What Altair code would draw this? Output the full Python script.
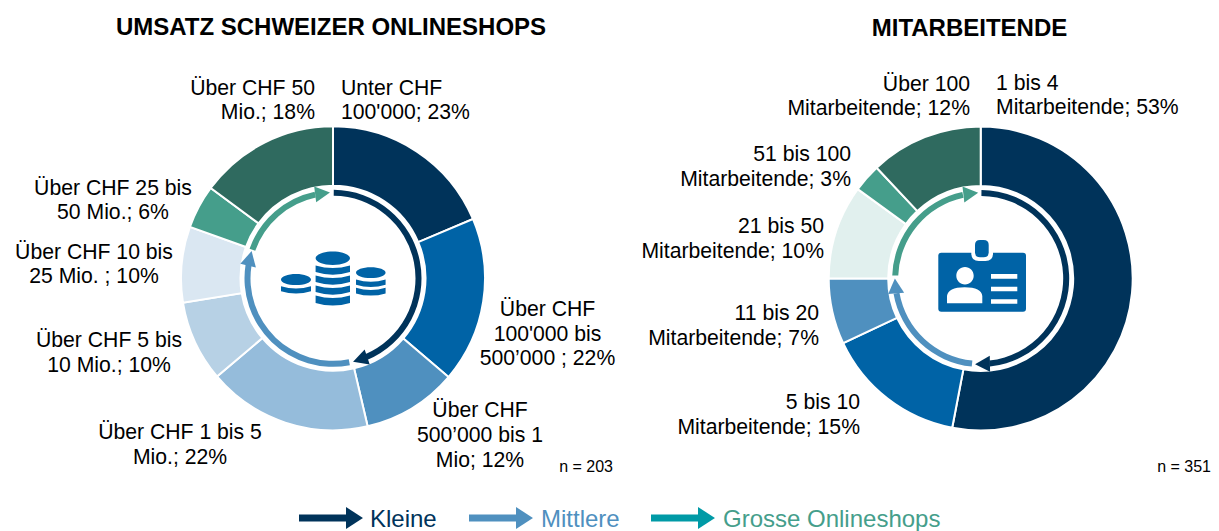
import math
import altair as alt
import pandas as pd

W, H, M = 1203, 523, 8
FONT = "Liberation Sans"

# ---------- data ----------
# slice sizes as read from the drawn angles (the printed labels are rounded)
left_values = [22.9, 21.7, 12.4, 21.5, 10.6, 9.9, 5.7, 18.3]
left_colors = ["#00335a", "#0063a6", "#4f90bf", "#95bcdb", "#b7d1e5", "#dae7f2", "#459e8b", "#2f6a5f"]
right_values = [53, 15, 7, 10, 3, 12]
right_colors = ["#00335a", "#0063a6", "#4f90bf", "#e1f0ee", "#459e8b", "#2f6a5f"]

DARK, MID, GREEN, TEAL = "#00335a", "#4f90bf", "#459e8b", "#009aa6"

left_center = (333, 278.3)
right_center = (980.7, 278.5)
R_OUT, R_IN = 152, 92.5
RING_OUT, RING_IN = 88.5, 82.5

# ring segments: start angle, shaft end angle, head tip angle (degrees)
left_ring_start = [0.5, 169, 289.5]
left_ring_end = [157, 279, 348]
left_ring_tip = [166, 288, 358]
right_ring_start = [0.5, 185.8, 272]
right_ring_end = [174, 260, 348]
right_ring_tip = [183.6, 270, 358.7]
ring_colors = [DARK, MID, GREEN]

# text: content, x, y, align
labels = [
    ("Über CHF 50", 315, 88, "right"), ("Mio.; 18%", 315, 112, "right"),
    ("Unter CHF", 341, 88, "left"), ("100'000; 23%", 341, 112, "left"),
    ("Über CHF 25 bis", 113, 188, "center"), ("50 Mio.; 6%", 113, 212, "center"),
    ("Über CHF 10 bis", 94, 252, "center"), ("25 Mio. ; 10%", 94, 276, "center"),
    ("Über CHF 5 bis", 109, 340, "center"), ("10 Mio.; 10%", 109, 365, "center"),
    ("Über CHF 1 bis 5", 180, 432, "center"), ("Mio.; 22%", 180, 457, "center"),
    ("Über CHF", 480, 410, "center"), ("500’000 bis 1", 480, 435, "center"), ("Mio; 12%", 480, 460, "center"),
    ("Über CHF", 547.5, 309, "center"), ("100'000 bis", 547.5, 334, "center"), ("500’000 ; 22%", 547.5, 358, "center"),
    ("Über 100", 970, 84, "right"), ("Mitarbeitende; 12%", 970, 108, "right"),
    ("1 bis 4", 996, 83, "left"), ("Mitarbeitende; 53%", 996, 107, "left"),
    ("51 bis 100", 851, 154, "right"), ("Mitarbeitende; 3%", 851, 179, "right"),
    ("21 bis 50", 824, 226, "right"), ("Mitarbeitende; 10%", 824, 251, "right"),
    ("11 bis 20", 819, 313, "right"), ("Mitarbeitende; 7%", 819, 338, "right"),
    ("5 bis 10", 860, 402, "right"), ("Mitarbeitende; 15%", 860, 427, "right"),
]
titles = [("UMSATZ SCHWEIZER ONLINESHOPS", 331, 27), ("MITARBEITENDE", 969.5, 28)]
notes = [("n = 203", 613, 466), ("n = 351", 1211, 466)]
legend_text = [("Kleine", 370, 519, DARK), ("Mittlere", 541, 519, MID), ("Grosse Onlineshops", 723, 519, GREEN)]
legend_arrows = [(299, 347, 363, DARK), (469, 517, 533, MID), (651, 699, 715, TEAL)]

# ---------- helpers ----------
sx = alt.Scale(domain=[0, W], range=[0, W])
sy = alt.Scale(domain=[0, H], range=[0, H])
X = lambda f="x": alt.X(f"{f}:Q", scale=sx, axis=None)
Y = lambda f="y": alt.Y(f"{f}:Q", scale=sy, axis=None)
TWO_PI = 2 * math.pi


def donut(values, colors, center):
    df = pd.DataFrame({"v": values, "c": colors, "i": range(len(values))})
    return alt.Chart(df).mark_arc(radius=R_OUT, radius2=R_IN, stroke="white", strokeWidth=2).encode(
        theta=alt.Theta("v:Q", stack=True, scale=alt.Scale(domain=[0, sum(values)], range=[0, TWO_PI])),
        color=alt.Color("c:N", scale=None),
        order=alt.Order("i:Q"),
        x=alt.value(center[0] - M),
        y=alt.value(center[1] - M),
    )


def ring(starts, ends, center):
    df = pd.DataFrame({"a": starts, "b": ends, "c": ring_colors})
    return alt.Chart(df).mark_arc(radius=RING_OUT, radius2=RING_IN).encode(
        theta=alt.Theta("a:Q", scale=alt.Scale(domain=[0, 360], range=[0, TWO_PI])),
        theta2="b:Q",
        color=alt.Color("c:N", scale=None),
        x=alt.value(center[0] - M),
        y=alt.value(center[1] - M),
    )


RING_HEAD = "M0,-0.93L1,0.93L-1,0.93Z"
LEG_HEAD = "M0,-0.77L1,0.77L-1,0.77Z"


def heads(ends, tips, center):
    rows = []
    r = (RING_OUT + RING_IN) / 2
    for a, b, c in zip(ends, tips, ring_colors):
        phi = (a + b) / 2
        rows.append({
            "x": center[0] - M + r * math.sin(math.radians(phi)),
            "y": center[1] - M - r * math.cos(math.radians(phi)),
            "angle": (phi + 90) % 360,
            "c": c,
        })
    return alt.Chart(pd.DataFrame(rows)).mark_point(
        shape=RING_HEAD, filled=True, opacity=1, strokeWidth=0, size=256
    ).encode(
        x=X(), y=Y(), fill=alt.Fill("c:N", scale=None),
        angle=alt.Angle("angle:Q", scale=alt.Scale(domain=[0, 360], range=[0, 360])),
    )


def icon(path, color, center):
    df = pd.DataFrame({"x": [center[0] - M], "y": [center[1] - M]})
    return alt.Chart(df).mark_point(
        shape=path, filled=True, fill=color, opacity=1, strokeWidth=0, size=40000
    ).encode(x=X(), y=Y())


def P(x, y, c):
    """pixel offset from icon centre -> normalised path coordinates (box +-100 px)"""
    return f"{(x - c[0]) / 100:.4f},{(y - c[1]) / 100:.4f}"


def ellipse(cx, cy, rx, ry, c):
    k = 0.5523
    return (
        f"M{P(cx - rx, cy, c)}"
        f"C{P(cx - rx, cy - k * ry, c)} {P(cx - k * rx, cy - ry, c)} {P(cx, cy - ry, c)}"
        f"C{P(cx + k * rx, cy - ry, c)} {P(cx + rx, cy - k * ry, c)} {P(cx + rx, cy, c)}"
        f"C{P(cx + rx, cy + k * ry, c)} {P(cx + k * rx, cy + ry, c)} {P(cx, cy + ry, c)}"
        f"C{P(cx - k * rx, cy + ry, c)} {P(cx - rx, cy + k * ry, c)} {P(cx - rx, cy, c)}Z"
    )


def band(cx, top, bottom, rx, sag, c):
    return (
        f"M{P(cx - rx, top, c)}"
        f"Q{P(cx, top + 2 * sag, c)} {P(cx + rx, top, c)}"
        f"L{P(cx + rx, bottom - sag, c)}"
        f"Q{P(cx, bottom + sag, c)} {P(cx - rx, bottom - sag, c)}Z"
    )


def rrect(x0, y0, x1, y1, r, c):
    return (
        f"M{P(x0 + r, y0, c)}L{P(x1 - r, y0, c)}Q{P(x1, y0, c)} {P(x1, y0 + r, c)}"
        f"L{P(x1, y1 - r, c)}Q{P(x1, y1, c)} {P(x1 - r, y1, c)}"
        f"L{P(x0 + r, y1, c)}Q{P(x0, y1, c)} {P(x0, y1 - r, c)}"
        f"L{P(x0, y0 + r, c)}Q{P(x0, y0, c)} {P(x0 + r, y0, c)}Z"
    )


# coins
cc = (333, 273)
coin_path = ellipse(332.8, 258.3, 17.2, 6.7, cc)
for t, b in [(265.5, 274.7), (275.5, 284.7), (285.5, 294.7), (295.5, 305.5)]:
    coin_path += band(332.8, t, b, 17.2, 2.6, cc)
coin_path += ellipse(296, 279.5, 15, 5.6, cc) + band(296, 286.3, 293.5, 15, 2.2, cc)
coin_path += ellipse(370.8, 272.7, 14.8, 5.4, cc)
coin_path += band(370.8, 279.5, 287, 14.8, 2.2, cc) + band(370.8, 287.8, 295.6, 14.8, 2.2, cc)

# badge
bc = (982, 280)
badge_blue = rrect(938.3, 252.7, 1026, 311.7, 3, bc)
badge_white = rrect(971.3, 245, 993, 261, 7.5, bc)
badge_clip = rrect(975, 240, 988.7, 257.3, 5, bc)
badge_person = ellipse(965, 275.7, 8.7, 8.7, bc)
badge_person += (
    f"M{P(947, 303.3, bc)}L{P(947, 296, bc)}Q{P(948, 287.3, bc)} {P(964.6, 287.3, bc)}"
    f"Q{P(981.5, 287.3, bc)} {P(982.3, 296, bc)}L{P(982.3, 303.3, bc)}Z"
)
for t, b in [(274, 278.7), (286.7, 291.3), (299.3, 303.7)]:
    badge_person += f"M{P(991, t, bc)}L{P(1017.3, t, bc)}L{P(1017.3, b, bc)}L{P(991, b, bc)}Z"


def text_layer(rows, size, weight="normal", color="#000000"):
    layers = []
    for align in sorted({r[3] for r in rows}):
        sub = [r for r in rows if r[3] == align]
        df = pd.DataFrame({"t": [r[0] for r in sub], "x": [r[1] - M for r in sub], "y": [r[2] - M + 1 for r in sub]})
        layers.append(alt.Chart(df).mark_text(
            font=FONT, fontSize=size, fontWeight=weight, color=color, align=align, baseline="middle"
        ).encode(x=X(), y=Y(), text="t:N"))
    return layers


layers = [
    donut(left_values, left_colors, left_center),
    donut(right_values, right_colors, right_center),
    ring(left_ring_start, left_ring_end, left_center),
    ring(right_ring_start, right_ring_end, right_center),
    heads(left_ring_end, left_ring_tip, left_center),
    heads(right_ring_end, right_ring_tip, right_center),
    icon(coin_path, "#0063a6", cc),
    icon(badge_blue, "#0063a6", bc),
    icon(badge_white, "#ffffff", bc),
    icon(badge_clip, "#0063a6", bc),
    icon(badge_person, "#ffffff", bc),
]

layers += text_layer(labels, 21.2)
layers += text_layer([(t, x, y, "center") for t, x, y in titles], 24, "bold")
layers += text_layer([(t, x, y, "right") for t, x, y in notes], 16)
for t, x, y, c in legend_text:
    layers += text_layer([(t, x, y, "left")], 24, color=c)

arrow_df = pd.DataFrame({
    "x": [a[0] - M for a in legend_arrows],
    "x2": [a[1] - M for a in legend_arrows],
    "hx": [a[2] - M - 8.5 for a in legend_arrows],
    "y": [518 - M] * 3,
    "a": [90] * 3,
    "c": [a[3] for a in legend_arrows],
})
layers.append(alt.Chart(arrow_df).mark_rule(strokeWidth=7).encode(
    x=X(), x2="x2:Q", y=Y(), color=alt.Color("c:N", scale=None)))
layers.append(alt.Chart(arrow_df).mark_point(
    shape=LEG_HEAD, filled=True, opacity=1, strokeWidth=0, size=484
).encode(
    x=X("hx"), y=Y(), fill=alt.Fill("c:N", scale=None),
    angle=alt.Angle("a:Q", scale=alt.Scale(domain=[0, 360], range=[0, 360])),
))

chart = alt.layer(*layers).resolve_scale(theta="independent").properties(
    width=W, height=H, padding=0, autosize=alt.AutoSizeParams(type="none"), background="white"
).configure_view(stroke=None)

chart.save("out.html", embed_options={"renderer": "svg", "actions": False})
